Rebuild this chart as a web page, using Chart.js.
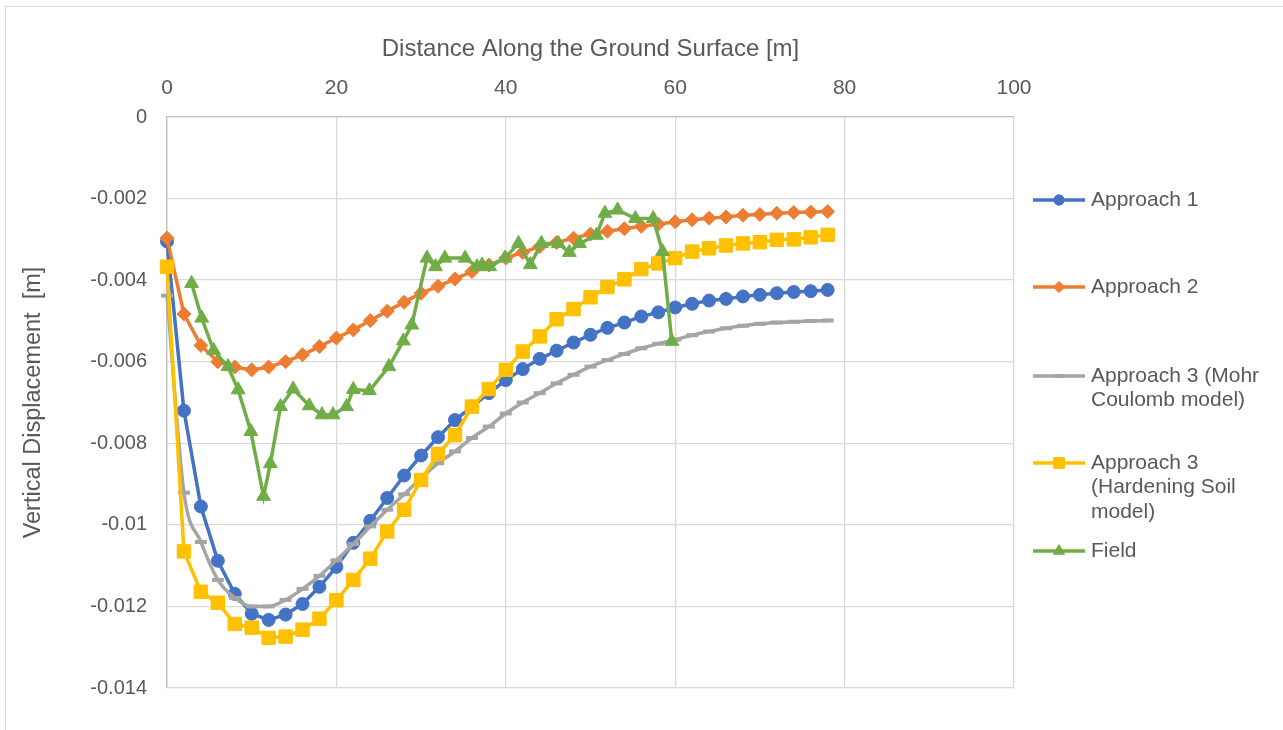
<!DOCTYPE html>
<html>
<head>
<meta charset="utf-8">
<script src="https://cdn.jsdelivr.net/npm/chart.js@4"></script>
<style>
  html, body { margin: 0; padding: 0; background: #fff; }
  #wrap { position: relative; width: 1283px; height: 730px; overflow: hidden; }
  #frame { position: absolute; left: 5px; top: 6px; width: 1300px; height: 760px; border: 1px solid #d9d9d9; }
  canvas { position: absolute; left: 0; top: 0; }
</style>
</head>
<body>
<div id="wrap">
  <div id="frame"></div>
  <canvas id="chart" width="1283" height="730"></canvas>
</div>
<script>
// data
const stations = [0, 2, 4, 6, 8, 10, 12, 14, 16, 18, 20, 22, 24, 26, 28, 30, 32, 34, 36, 38,
  40, 42, 44, 46, 48, 50, 52, 54, 56, 58, 60, 62, 64, 66, 68, 70, 72, 74, 76, 78];

const approach1 = [-0.00305, -0.0072, -0.00955, -0.01088, -0.01169, -0.01218, -0.01233, -0.0122, -0.01194, -0.01152,
  -0.01103, -0.01044, -0.0099, -0.00934, -0.00879, -0.0083, -0.00785, -0.00743, -0.0071, -0.00677,
  -0.00645, -0.00618, -0.00593, -0.00573, -0.00553, -0.00534, -0.00517, -0.00504, -0.00489, -0.00479,
  -0.00467, -0.00458, -0.0045, -0.00446, -0.0044, -0.00436, -0.00432, -0.00429, -0.00427, -0.00424];

const approach2 = [-0.00297, -0.00483, -0.0056, -0.006, -0.00613, -0.0062, -0.00613, -0.006, -0.00583, -0.00563,
  -0.00542, -0.00522, -0.00499, -0.00476, -0.00454, -0.00432, -0.00415, -0.00397, -0.00379, -0.00363,
  -0.00346, -0.00332, -0.00318, -0.00308, -0.00297, -0.00287, -0.0028, -0.00274, -0.00268, -0.00263,
  -0.00257, -0.00252, -0.00248, -0.00245, -0.00241, -0.00239, -0.00236, -0.00234, -0.00233, -0.00232];

const approach3MC = [-0.00438, -0.00921, -0.01042, -0.01135, -0.01179, -0.012, -0.012, -0.01184, -0.01157, -0.01125,
  -0.01087, -0.01047, -0.01004, -0.00963, -0.00925, -0.00885, -0.00849, -0.0082, -0.00787, -0.00759,
  -0.00727, -0.007, -0.00677, -0.00653, -0.00632, -0.00612, -0.00596, -0.00581, -0.00567, -0.00556,
  -0.00546, -0.00535, -0.00526, -0.00518, -0.00512, -0.00507, -0.00504, -0.00502, -0.005, -0.00499];

const approach3HS = [-0.00367, -0.01065, -0.01164, -0.01191, -0.01243, -0.01252, -0.01277, -0.01274, -0.01257, -0.0123,
  -0.01185, -0.01135, -0.01083, -0.01016, -0.00963, -0.0089, -0.00826, -0.0078, -0.0071, -0.00667,
  -0.0062, -0.00575, -0.00538, -0.00496, -0.00471, -0.00442, -0.00417, -0.00398, -0.00373, -0.00359,
  -0.00346, -0.0033, -0.00322, -0.00315, -0.0031, -0.00307, -0.00301, -0.003, -0.00295, -0.00289];

const fieldX = [2.9, 4.1, 5.5, 7.2, 8.4, 9.9, 11.4, 12.2, 13.4, 14.9,
  16.8, 18.3, 19.6, 21.2, 22.0, 23.9, 26.2, 27.9, 28.9, 30.7,
  31.7, 32.8, 35.2, 36.6, 37.2, 38.1, 39.9, 41.5, 42.9, 44.2,
  46.2, 47.5, 48.7, 50.7, 51.7, 53.2, 55.3, 57.4, 58.5, 59.6];
const fieldY = [-0.00408, -0.00493, -0.00572, -0.00612, -0.00669, -0.00771, -0.0093, -0.0085, -0.0071, -0.00667,
  -0.00708, -0.0073, -0.0073, -0.0071, -0.00668, -0.00671, -0.00612, -0.00549, -0.0051, -0.00346,
  -0.00367, -0.00346, -0.00346, -0.00367, -0.00363, -0.00367, -0.00346, -0.0031, -0.00362, -0.0031,
  -0.0031, -0.00332, -0.0031, -0.0029, -0.00236, -0.00228, -0.00249, -0.00249, -0.0033, -0.0055];

const xTicks = [0, 20, 40, 60, 80, 100];
const seriesNames = ["Approach 1", "Approach 2", "Approach 3 (Mohr Coulomb model)",
  "Approach 3 (Hardening Soil model)", "Field"];
const legendLines = [["Approach 1"], ["Approach 2"], ["Approach 3 (Mohr", "Coulomb model)"],
  ["Approach 3", "(Hardening Soil", "model)"], ["Field"]];

const FONT = "'Liberation Sans', Arial, sans-serif";
const TEXT = "#595959";
const legendTop = [200, 287, 376, 463, 551];

const pairs = (xs, ys) => ys.map((y, i) => ({ x: xs[i], y: y }));

const makeSet = (label, data, color, style, radius, order, extra) => Object.assign({
  label: label,
  data: data,
  borderColor: color,
  backgroundColor: color,
  pointBackgroundColor: color,
  pointBorderColor: color,
  pointBorderWidth: 1,
  borderWidth: 3.5,
  pointStyle: style,
  pointRadius: radius,
  tension: 0,
  order: order,
  clip: false,
}, extra || {});

// legend on the right, Excel-like
const sideLegend = {
  id: "sideLegend",
  afterDraw(chart) {
    const ctx = chart.ctx;
    chart.data.datasets.forEach((ds, i) => {
      const y = legendTop[i];
      ctx.save();
      ctx.strokeStyle = ds.borderColor;
      ctx.lineWidth = ds.borderWidth;
      ctx.beginPath();
      ctx.moveTo(1033, y);
      ctx.lineTo(1085, y);
      ctx.stroke();
      ctx.fillStyle = ds.pointBackgroundColor;
      ctx.strokeStyle = ds.pointBorderColor;
      ctx.lineWidth = ds.pointBorderWidth;
      Chart.helpers.drawPoint(ctx, {
        pointStyle: ds.pointStyle,
        radius: ds.pointRadius * 0.8,
        rotation: 0,
        borderWidth: ds.pointBorderWidth,
      }, 1059, y);
      ctx.fillStyle = TEXT;
      ctx.font = "21px " + FONT;
      ctx.textBaseline = "middle";
      ctx.textAlign = "left";
      legendLines[i].forEach((t, k) => ctx.fillText(t, 1091, y + k * 24.5));
      ctx.restore();
    });
  },
};

Chart.defaults.font.family = FONT;
Chart.defaults.color = TEXT;

const config = {
  type: "line",
  data: {
    datasets: [
      makeSet(seriesNames[0], pairs(stations, approach1), "#4472C4", "circle", 6.5, 4),
      makeSet(seriesNames[1], pairs(stations, approach2), "#ED7D31", "rectRot", 7, 3),
      makeSet(seriesNames[2], pairs(stations, approach3MC), "#A5A5A5", "line", 6, 2,
        { pointBorderWidth: 4, cubicInterpolationMode: "monotone" }),
      makeSet(seriesNames[3], pairs(stations, approach3HS), "#FFC000", "rect", 9.5, 1),
      makeSet(seriesNames[4], pairs(fieldX, fieldY), "#70AD47", "triangle", 8, 0),
    ],
  },
  options: {
    responsive: false,
    animation: false,
    layout: { padding: { left: 0, top: 0, right: 269, bottom: 42 } },
    plugins: {
      legend: { display: false },
      tooltip: { enabled: false },
    },
    scales: {
      x: {
        type: "linear",
        position: "top",
        min: 0,
        max: 100,
        afterBuildTicks: (scale) => { scale.ticks = xTicks.map((v) => ({ value: v })); },
        afterFit: (scale) => { scale.height = 117; },
        ticks: { font: { size: 21 }, padding: 16, color: TEXT },
        grid: { color: "#D9D9D9", lineWidth: 1.3, drawTicks: false },
        border: { color: "#BFBFBF", width: 1.3 },
        title: {
          display: true,
          text: "Distance Along the Ground Surface [m]",
          font: { size: 24 },
          color: TEXT,
          padding: { top: 35, bottom: 0 },
        },
      },
      y: {
        type: "linear",
        min: -0.014,
        max: 0,
        afterFit: (scale) => { scale.width = 167; },
        ticks: {
          stepSize: 0.002,
          font: { size: 20 },
          padding: 20,
          color: TEXT,
          callback: (v) => Number(v.toFixed(3)).toString(),
        },
        grid: { color: "#D9D9D9", lineWidth: 1.3, drawTicks: false },
        border: { color: "#BFBFBF", width: 1.3 },
        title: {
          display: true,
          text: "Vertical Displacement  [m]",
          font: { size: 23.5 },
          color: TEXT,
          padding: { top: 19, bottom: 0 },
        },
      },
    },
  },
  plugins: [sideLegend],
};

new Chart(document.getElementById("chart"), config);
</script>
</body>
</html>
